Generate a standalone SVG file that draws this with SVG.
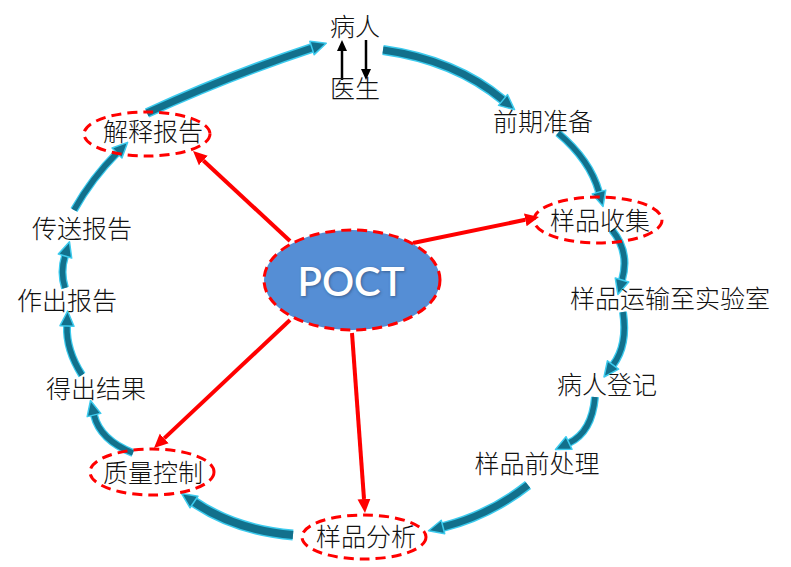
<svg xmlns="http://www.w3.org/2000/svg" width="791" height="567" viewBox="0 0 791 567">
<style>
.lbl{font-family:"Noto Sans CJK SC","Noto Sans",sans-serif;font-size:25px;font-weight:300;fill:#111;text-anchor:middle}
.ring{fill:none;stroke:#ff0000;stroke-width:3;stroke-dasharray:10 6}
.glow{fill:none;stroke:#3ccbee;stroke-linecap:butt}
.core{fill:none;stroke:#12708c;stroke-linecap:butt}
.red{fill:none;stroke:#ff0000;stroke-width:4}
.blk{fill:none;stroke:#000;stroke-width:2.5}
.poct{font-family:Lato,"Open Sans",sans-serif;font-size:40px;font-weight:600;text-anchor:middle}
</style>
<defs>
<marker id="bh" markerUnits="userSpaceOnUse" viewBox="-2 -10 20 20" markerWidth="20" markerHeight="20" refX="0" refY="0" orient="auto">
<path d="M0,-7 L15,0 L0,7 Z" fill="#12708c" stroke="#3ccbee" stroke-width="1.5" stroke-linejoin="round"/>
</marker>
<marker id="rh" markerUnits="userSpaceOnUse" viewBox="0 -8 16 16" markerWidth="16" markerHeight="16" refX="0" refY="0" orient="auto">
<path d="M0,-6.5 L14,0 L0,6.5 Z" fill="#ff0000"/>
</marker>
<marker id="kh" markerUnits="userSpaceOnUse" viewBox="0 -6 12 12" markerWidth="12" markerHeight="12" refX="0" refY="0" orient="auto">
<path d="M0,-5 L11,0 L0,5 Z" fill="#000"/>
</marker>
<filter id="sh" x="-20%" y="-20%" width="140%" height="140%">
<feGaussianBlur stdDeviation="1.5"/>
</filter>
</defs>

<g id="connectors">
<g id="cycle">
<path class="glow" stroke-width="10" d="M147,113 Q230,75 312,48"/>
<path class="core" stroke-width="7" d="M147,113 Q230,75 312,48" marker-end="url(#bh)"/>
<path class="glow" stroke-width="10" d="M383,50 Q455,60 503,100"/>
<path class="core" stroke-width="7" d="M383,50 Q455,60 503,100" marker-end="url(#bh)"/>
<path class="glow" stroke-width="8" d="M558,133 Q590,160 599,192"/>
<path class="core" stroke-width="5.5" d="M558,133 Q590,160 599,192" marker-end="url(#bh)"/>
<path class="glow" stroke-width="8" d="M612,230 Q630,252 622,280"/>
<path class="core" stroke-width="5.5" d="M612,230 Q630,252 622,280" marker-end="url(#bh)"/>
<path class="glow" stroke-width="8" d="M623,312 Q628,345 613,365"/>
<path class="core" stroke-width="5.5" d="M623,312 Q628,345 613,365" marker-end="url(#bh)"/>
<path class="glow" stroke-width="8" d="M595,397 Q592,432 569,443"/>
<path class="core" stroke-width="5.5" d="M595,397 Q592,432 569,443" marker-end="url(#bh)"/>
<path class="glow" stroke-width="10" d="M528,485 Q490,515 443,527"/>
<path class="core" stroke-width="7" d="M528,485 Q490,515 443,527" marker-end="url(#bh)"/>
<path class="glow" stroke-width="11" d="M293,535 Q235,530 194,502"/>
<path class="core" stroke-width="8" d="M293,535 Q235,530 194,502" marker-end="url(#bh)"/>
<path class="glow" stroke-width="8" d="M133,453 Q100,440 94,415"/>
<path class="core" stroke-width="5.5" d="M133,453 Q100,440 94,415" marker-end="url(#bh)"/>
<path class="glow" stroke-width="8" d="M82,375 Q66,350 67,326"/>
<path class="core" stroke-width="5.5" d="M82,375 Q66,350 67,326" marker-end="url(#bh)"/>
<path class="glow" stroke-width="8" d="M65,288 Q60,272 65,256"/>
<path class="core" stroke-width="5.5" d="M65,288 Q60,272 65,256" marker-end="url(#bh)"/>
<path class="glow" stroke-width="8" d="M74,210 Q92,178 117,153"/>
<path class="core" stroke-width="5.5" d="M74,210 Q92,178 117,153" marker-end="url(#bh)"/>
</g>
<g id="doctor-patient">
<line class="blk" x1="342" y1="80" x2="342" y2="51" marker-end="url(#kh)"/>
<line class="blk" x1="366" y1="40" x2="366" y2="69" marker-end="url(#kh)"/>
</g>
<g id="poct-links">
<line class="red" x1="290" y1="241" x2="203.3" y2="160.5" marker-end="url(#rh)"/>
<line class="red" x1="413" y1="243" x2="525.3" y2="219.8" marker-end="url(#rh)"/>
<line class="red" x1="290" y1="320" x2="164.2" y2="438.4" marker-end="url(#rh)"/>
<line class="red" x1="352" y1="333" x2="364" y2="499" marker-end="url(#rh)"/>
</g>
</g>

<g id="poct">
<ellipse cx="352" cy="280" rx="88" ry="50" fill="#558ed5" stroke="#ff0000" stroke-width="3" stroke-dasharray="10 6"/>
<text class="poct" x="352" y="297" fill="#2a4a70" filter="url(#sh)" opacity="0.7">POCT</text>
<text class="poct" x="351" y="296" fill="#ffffff">POCT</text>
</g>

<g id="patient"><text class="lbl" x="355" y="35.5">病人</text></g>
<g id="doctor"><text class="lbl" x="355" y="97.5">医生</text></g>
<g id="prep"><text class="lbl" x="543" y="130.5">前期准备</text></g>
<g id="collect"><ellipse class="ring" cx="598" cy="220" rx="64" ry="23"/><text class="lbl" x="600" y="229.5">样品收集</text></g>
<g id="transport"><text class="lbl" x="670" y="307.5">样品运输至实验室</text></g>
<g id="register"><text class="lbl" x="607" y="393.5">病人登记</text></g>
<g id="pretreat"><text class="lbl" x="537" y="472.5">样品前处理</text></g>
<g id="analyze"><ellipse class="ring" cx="364" cy="537" rx="62" ry="22"/><text class="lbl" x="366" y="545.5">样品分析</text></g>
<g id="qc"><ellipse class="ring" cx="152" cy="472" rx="62" ry="23"/><text class="lbl" x="153" y="481.5">质量控制</text></g>
<g id="result"><text class="lbl" x="96" y="397.5">得出结果</text></g>
<g id="make-report"><text class="lbl" x="67" y="309.5">作出报告</text></g>
<g id="send-report"><text class="lbl" x="82" y="237.5">传送报告</text></g>
<g id="explain"><ellipse class="ring" cx="147" cy="134" rx="63" ry="22"/><text class="lbl" x="153" y="140.5">解释报告</text></g>
</svg>
